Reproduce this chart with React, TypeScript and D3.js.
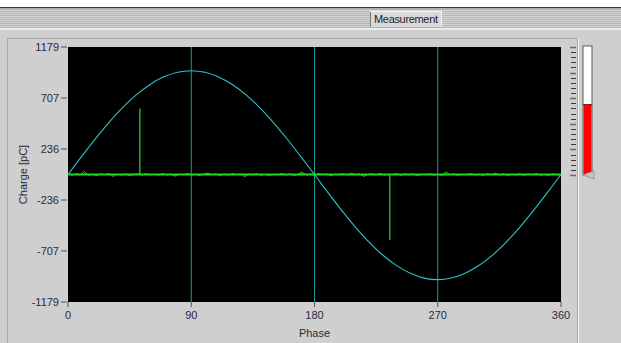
import React from 'react'
import * as d3 from 'd3'

// reference sine, read every 10 degrees of phase
const sinePhases = [0, 10, 20, 30, 40, 50, 60, 70, 80, 90, 100, 110, 120, 130, 140, 150, 160, 170, 180,
  190, 200, 210, 220, 230, 240, 250, 260, 270, 280, 290, 300, 310, 320, 330, 340, 350, 360]
const sineCharge = [0, 168, 330, 482, 620, 738, 833, 903, 946, 960, 946, 902, 832, 736, 618, 480, 328, 166, 0,
  -170, -334, -488, -627, -747, -843, -914, -958, -972, -957, -913, -842, -745, -625, -486, -332, -168, 0]

// green base trace (small noise around zero), one value every 3 degrees
const noiseCharge = [3, -5, 6, -3, 26, -6, 3, -9, 5, -2,
  8, -18, 3, -5, 6, -9, 2, 5, -6, 8,
  -3, 2, -6, 10, -5, 5, -16, 3, -2, 9,
  -5, 3, -8, 2, 13, -3, 6, -9, 3, -5,
  8, -2, 5, -20, 5, -3, 6, -6, 2, -8,
  3, -3, 9, -5, 6, -8, 2, 22, -5, 3,
  -6, 8, -2, 5, -10, 3, -3, 6, -5, 12,
  -3, 5, -18, 2, 6, -5, 10, -6, 3, -2,
  8, -6, 5, -3, 6, -9, 3, -2, 6, -5,
  3, -8, 24, -3, 5, -6, 2, -3, 9, -5,
  3, -8, 6, -2, 12, -5, 5, -9, 3, -3,
  6, -6, 3, -2, 8, -5, 2, -8, 5, -3, 0]

// discharge pulses
const pulsePhases = [52.5, 235]
const pulseCharge = [610, -605]

const yTicks = [1179, 707, 236, -236, -707, -1179]
const xTicks = [0, 90, 180, 270, 360]
const gridPhases = [90, 180, 270]

const gaugeLevel = 0.55 // fraction of gauge filled red
const gaugeSteps = 25

export default function App() {
  const W = 621
  const H = 343
  const x = d3.scaleLinear().domain([0, 360]).range([68, 561])
  const y = d3.scaleLinear().domain([-1179, 1179]).range([302, 47])

  const sineLine = d3.line<number>()
    .x((d, i) => x(sinePhases[i]))
    .y(d => y(d))
    .curve(d3.curveCatmullRom)

  const noiseStep = 360 / (noiseCharge.length - 1)
  const noiseLine = d3.line<number>()
    .x((d, i) => x(i * noiseStep))
    .y(d => y(d))

  // gauge
  const g = d3.scaleLinear().domain([0, gaugeSteps]).range([175, 47])
  const gaugeTop = g(gaugeSteps)
  const gaugeBottom = g(0)
  const redTop = gaugeBottom - (gaugeBottom - gaugeTop) * gaugeLevel

  const font = '"Liberation Sans", Arial, sans-serif'
  const stripes = d3.range(9, 28, 2)

  return (
    <svg width={W} height={H} style={{ position: 'absolute', left: 0, top: 0 }} fontFamily={font}>
      <rect width={W} height={H} fill="#cfcfcf" />
      {/* top strip */}
      <rect width={W} height={7} fill="#ffffff" />
      <rect y={7} width={W} height={1.5} fill="#3a3a3a" />
      <rect y={8.5} width={W} height={19.5} fill="#d6d6d6" />
      {stripes.map(s => (
        <rect key={s} y={s} width={W} height={1} fill="#b4b4b4" />
      ))}
      <rect y={28} width={W} height={2} fill="#ececec" />
      {/* tab */}
      <rect x={370} y={11.5} width={72} height={15} fill="#d9d9d9" />
      <line x1={370.5} y1={11.5} x2={370.5} y2={26.5} stroke="#7a7a7a" />
      <line x1={370} y1={11.5} x2={442} y2={11.5} stroke="#f4f4f4" />
      <line x1={441.5} y1={11.5} x2={441.5} y2={26.5} stroke="#f4f4f4" />
      <text x={406} y={23} textAnchor="middle" fontSize={11} fill="#222" textLength={64}>Measurement</text>

      {/* panel border */}
      <path d={`M7.5,${H} V38.5 H577.5 V${H}`} fill="none" stroke="#a8a8a8" />
      <line x1={578.5} y1={38} x2={578.5} y2={H} stroke="#f6f6f6" />

      {/* plot area */}
      <rect x={x(0)} y={y(1179)} width={x(360) - x(0)} height={y(-1179) - y(1179)} fill="#000" />
      {gridPhases.map(p => (
        <line key={p} x1={x(p)} x2={x(p)} y1={y(1179)} y2={y(-1179)} stroke="#1a9c9c" strokeWidth={1} />
      ))}
      <path d={sineLine(sineCharge) || ''} fill="none" stroke="#2cc4c8" strokeWidth={1.1} />
      <line x1={x(0)} x2={x(360)} y1={y(0)} y2={y(0)} stroke="#22e022" strokeWidth={2} />
      <path d={noiseLine(noiseCharge) || ''} fill="none" stroke="#1ed01e" strokeWidth={1} />
      {pulsePhases.map((p, i) => (
        <line key={p} x1={x(p)} x2={x(p)} y1={y(0)} y2={y(pulseCharge[i])} stroke="#22e022" strokeWidth={1.2} />
      ))}

      {/* y axis */}
      {yTicks.map(t => (
        <g key={t} transform={`translate(0,${y(t)})`}>
          <line x1={61} x2={67} stroke="#555" />
          <text x={59} dy="0.35em" textAnchor="end" fontSize={11} fill="#2a2a3a">{t}</text>
        </g>
      ))}
      {/* x axis */}
      {xTicks.map(t => (
        <g key={t} transform={`translate(${x(t)},0)`}>
          <line y1={302} y2={307} stroke="#555" />
          <text y={315} dy="0.35em" textAnchor="middle" fontSize={11} fill="#2a2a3a">{t}</text>
        </g>
      ))}
      <text x={x(180)} y={333} dy="0.35em" textAnchor="middle" fontSize={11} fill="#2a2a3a">Phase</text>
      <text transform={`translate(23,${y(0)}) rotate(-90)`} dy="0.35em" textAnchor="middle" fontSize={11} fill="#2a2a3a">Charge [pC]</text>

      {/* gauge */}
      {d3.range(0, gaugeSteps + 1).map(i => (
        <line key={i} x1={i % 5 === 0 ? 570 : 571} x2={576} y1={Math.round(g(i)) + 0.5} y2={Math.round(g(i)) + 0.5}
          stroke={i % 5 === 0 ? '#6a6a6a' : '#3a3a3a'} strokeWidth={i % 5 === 0 ? 1.5 : 1} />
      ))}
      <rect x={583} y={gaugeTop - 1} width={9} height={gaugeBottom - gaugeTop + 1} fill="#fff" stroke="#5a5a5a" />
      <rect x={583.5} y={redTop} width={8} height={gaugeBottom - redTop} fill="#ff0000" />
      <line x1={583} x2={592} y1={redTop} y2={redTop} stroke="#7a1010" />
      <polygon points={`583,${gaugeBottom} 594,${gaugeBottom - 4} 594,${gaugeBottom + 4}`} fill="#c4c4c4" stroke="#9a9a9a" />
    </svg>
  )
}
